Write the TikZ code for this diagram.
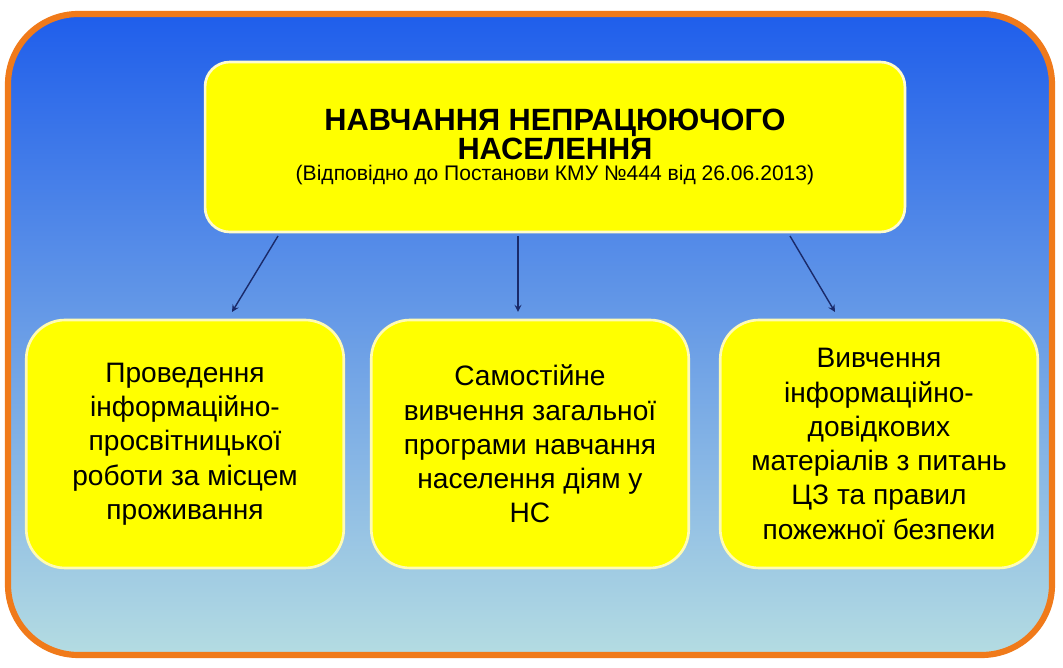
\documentclass[tikz,border=0pt]{standalone}
\usepackage{fontspec}
\setmainfont{Liberation Sans}
\definecolor{bgtop}{HTML}{1F5EEB}
\definecolor{bgbot}{HTML}{B4DCE2}
\definecolor{frame}{HTML}{F07A1A}
\definecolor{boxyel}{HTML}{FFFF00}
\definecolor{arrowc}{HTML}{1A2A6A}
\newcommand{\titlefont}{\fontsize{17.5}{21}\selectfont\bfseries}
\newcommand{\notefont}{\fontsize{12}{15}\selectfont\mdseries}
\tikzset{
  topbox/.style={draw=white!80!yellow, line width=1.5pt, fill=boxyel, rounded corners=14pt,
    minimum width=14cm, minimum height=3.4cm, align=center},
  subbox/.style={draw=white!70!yellow, line width=1.5pt, fill=boxyel, rounded corners=22pt,
    minimum width=6.35cm, minimum height=4.96cm, align=center, font=\fontsize{16}{19.5}\selectfont},
  linkarrow/.style={->, >=stealth, draw=arrowc, line width=0.8pt}
}
\begin{document}
\begin{tikzpicture}[x=0.02cm,y=-0.02cm]
    % Поле та рамка
    \useasboundingbox[fill=white] (0,0) rectangle (1063,668);
    \shade[top color=bgtop, bottom color=bgbot, rounded corners=40pt] (8,14) rectangle (1052,655);
    \draw[frame, line width=3.5pt, rounded corners=40pt] (8,14) rectangle (1052,655);
    % Головний блок
    \node[topbox] (main) at (555,147) {\titlefont НАВЧАННЯ НЕПРАЦЮЮЧОГО\\\titlefont НАСЕЛЕННЯ\\\notefont (Відповідно до Постанови КМУ №444 від 26.06.2013)};
    % Нижні блоки
    \node[subbox] (left) at (185,444) {Проведення\\інформаційно-\\просвітницької\\роботи за місцем\\проживання};
    \node[subbox] (mid) at (530,444) {Самостійне\\вивчення загальної\\програми навчання\\населення діям у\\НС};
    \node[subbox] (right) at (879,444) {Вивчення\\інформаційно-\\довідкових\\матеріалів з питань\\ЦЗ та правил\\пожежної безпеки};
    % Стрілки
    \coordinate (a1) at (278,236);
    \coordinate (a2) at (518,236);
    \coordinate (a3) at (790,236);
    \coordinate (b1) at (232,312);
    \coordinate (b2) at (518,312);
    \coordinate (b3) at (835,312);
    \draw[linkarrow] (a1) -- (b1);
    \draw[linkarrow] (a2) -- (b2);
    \draw[linkarrow] (a3) -- (b3);
\end{tikzpicture}
\end{document}
